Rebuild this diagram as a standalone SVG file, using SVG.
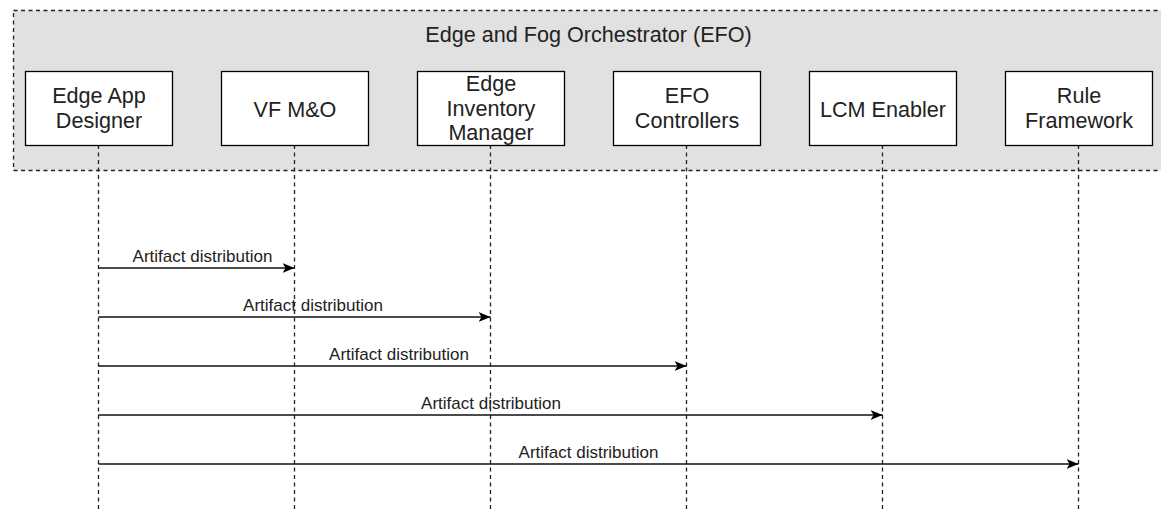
<svg xmlns="http://www.w3.org/2000/svg" width="1161" height="512" viewBox="0 0 1161 512">
<style>
.box{fill:#fff;stroke:#000;stroke-width:1.3}
.nt{font-family:"Liberation Sans",Arial,sans-serif;font-size:21.6px;fill:#222;text-anchor:middle}
.lbl{font-family:"Liberation Sans",Arial,sans-serif;font-size:17px;fill:#222;text-anchor:middle}
.life{stroke:#222;stroke-width:1.3;stroke-dasharray:4 3.5;fill:none}
.msg{stroke:#111;stroke-width:1.3;fill:none;marker-end:url(#arr)}
</style>
<defs>
<marker id="arr" markerUnits="userSpaceOnUse" markerWidth="14" markerHeight="12" refX="12" refY="5" orient="auto">
<path d="M0,0 L12,5 L0,10 L3,5 z" fill="#000"/>
</marker>
</defs>
<g id="efo">
<rect x="13.5" y="10.5" width="1152" height="160" fill="#e1e1e1" stroke="#222" stroke-width="1.3" stroke-dasharray="4 3.5"/>
<text class="nt" x="588.5" y="42" font-size="22px">Edge and Fog Orchestrator (EFO)</text>
</g>
<g id="connectors">
<line class="life" x1="98.5" y1="145" x2="98.5" y2="512"/>
<line class="life" x1="294.5" y1="145" x2="294.5" y2="512"/>
<line class="life" x1="490.5" y1="145" x2="490.5" y2="512"/>
<line class="life" x1="686.5" y1="145" x2="686.5" y2="512"/>
<line class="life" x1="882.5" y1="145" x2="882.5" y2="512"/>
<line class="life" x1="1078.5" y1="145" x2="1078.5" y2="512"/>
<line class="msg" x1="98.5" y1="268" x2="294.5" y2="268"/>
<text class="lbl" x="202.5" y="262">Artifact distribution</text>
<line class="msg" x1="98.5" y1="317" x2="490.5" y2="317"/>
<text class="lbl" x="313" y="311">Artifact distribution</text>
<line class="msg" x1="98.5" y1="366" x2="686.5" y2="366"/>
<text class="lbl" x="399" y="360">Artifact distribution</text>
<line class="msg" x1="98.5" y1="415" x2="882.5" y2="415"/>
<text class="lbl" x="491" y="409">Artifact distribution</text>
<line class="msg" x1="98.5" y1="464" x2="1078.5" y2="464"/>
<text class="lbl" x="588.5" y="458">Artifact distribution</text>
</g>
<g id="n1">
<rect class="box" x="25.5" y="71.5" width="147" height="74"/>
<text class="nt" x="99" y="103">Edge App</text>
<text class="nt" x="99" y="128">Designer</text>
</g>
<g id="n2">
<rect class="box" x="221.5" y="71.5" width="147" height="74"/>
<text class="nt" x="295" y="116.5">VF M&amp;O</text>
</g>
<g id="n3">
<rect class="box" x="417.5" y="71.5" width="147" height="74"/>
<text class="nt" x="491" y="91">Edge</text>
<text class="nt" x="491" y="115.5">Inventory</text>
<text class="nt" x="491" y="140">Manager</text>
</g>
<g id="n4">
<rect class="box" x="613.5" y="71.5" width="147" height="74"/>
<text class="nt" x="687" y="103">EFO</text>
<text class="nt" x="687" y="128">Controllers</text>
</g>
<g id="n5">
<rect class="box" x="809.5" y="71.5" width="147" height="74"/>
<text class="nt" x="883" y="116.5">LCM Enabler</text>
</g>
<g id="n6">
<rect class="box" x="1005.5" y="71.5" width="147" height="74"/>
<text class="nt" x="1079" y="103">Rule</text>
<text class="nt" x="1079" y="128">Framework</text>
</g>
</svg>
